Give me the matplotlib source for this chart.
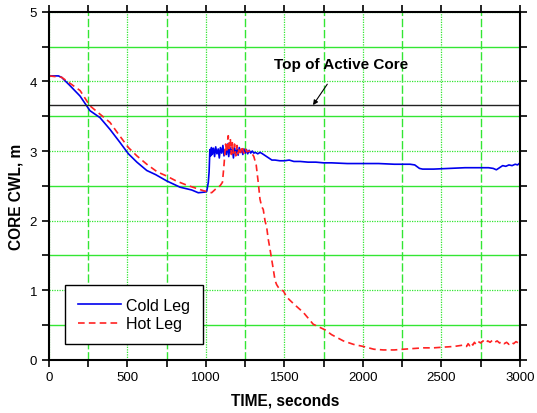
import matplotlib.pyplot as plt
from matplotlib.ticker import MultipleLocator

plt.rcParams['font.family'] = ['Liberation Sans', 'DejaVu Sans']

# Cold leg (blue)
cold_t = [0, 60, 80, 134, 198, 261, 325, 389, 450, 506, 560, 623, 680, 750, 835, 909, 951, 994,
          1005, 1015, 1020, 1025, 1030, 1035, 1040, 1048, 1055, 1062, 1070, 1078, 1085, 1092,
          1100, 1108, 1115, 1122, 1130, 1137, 1145, 1152, 1160, 1168, 1175, 1182, 1190, 1198,
          1205, 1212, 1220, 1228, 1235, 1242, 1250, 1258, 1266, 1275, 1285, 1295, 1305, 1315,
          1330, 1345, 1360, 1380, 1400, 1420, 1440, 1470, 1500, 1530, 1560, 1600, 1650, 1700,
          1750, 1800, 1900, 2000, 2100, 2200, 2300, 2330, 2360, 2380, 2450, 2550, 2650, 2750,
          2800, 2830, 2850, 2870, 2890, 2910, 2930, 2950, 2970, 2985, 3000]
cold_v = [4.08, 4.08, 4.06, 3.94, 3.79, 3.58, 3.48, 3.31, 3.13, 2.96, 2.84, 2.72, 2.66, 2.57, 2.48, 2.44, 2.40, 2.41,
          2.42, 2.55, 2.70, 3.02, 2.93, 3.05, 2.95, 3.04, 2.92, 3.06, 2.96, 3.03, 2.90, 3.05,
          2.97, 3.08, 2.93, 3.02, 2.95, 3.10, 2.92, 3.06, 2.97, 3.04, 2.90, 3.05, 2.96, 3.03,
          2.94, 3.05, 2.98, 3.02, 2.95, 3.03, 2.97, 3.02, 2.96, 3.01, 2.97, 3.00, 2.97, 2.98,
          2.96, 2.98, 2.96, 2.93, 2.90, 2.87, 2.87, 2.86, 2.86, 2.87, 2.85, 2.85, 2.84, 2.84,
          2.83, 2.83, 2.82, 2.82, 2.82, 2.81, 2.81, 2.80, 2.75, 2.74, 2.74, 2.75, 2.76, 2.76,
          2.76, 2.75, 2.73, 2.76, 2.79, 2.78, 2.80, 2.79, 2.81, 2.80, 2.83]

# Hot leg (red)
hot_t = [0, 40, 81, 130, 198, 261, 325, 389, 450, 506, 560, 623, 690, 750, 810, 877, 930, 983, 1036,
         1060, 1090, 1105, 1115, 1125, 1132, 1138, 1142, 1148, 1155, 1162, 1168, 1175, 1182, 1190,
         1198, 1205, 1212, 1220, 1230, 1240, 1250, 1260, 1275, 1290, 1305, 1320, 1333, 1344, 1355,
         1365, 1376, 1387, 1397, 1408, 1418, 1429, 1440, 1450, 1461, 1475, 1493, 1514, 1560, 1620,
         1650, 1683, 1720, 1758, 1800, 1875, 1940, 2002, 2070, 2130, 2200, 2257, 2320, 2385, 2450,
         2512, 2580, 2640, 2660, 2670, 2680, 2690, 2700, 2710, 2720, 2735, 2750, 2765, 2780, 2795,
         2810, 2825, 2840, 2855, 2870, 2885, 2900, 2915, 2930, 2945, 2960, 2975, 2990, 3000]
hot_v = [4.08, 4.07, 4.06, 3.98, 3.87, 3.65, 3.53, 3.41, 3.22, 3.05, 2.93, 2.81, 2.70, 2.64, 2.57, 2.51, 2.47, 2.43, 2.40,
         2.45, 2.50, 2.55, 2.80, 3.10, 2.98, 3.15, 3.22, 3.00, 3.18, 2.95, 3.12, 2.97, 3.10, 2.93,
         3.08, 2.96, 3.05, 2.98, 3.07, 2.97, 3.04, 2.99, 3.00, 2.98, 2.92, 2.80, 2.55, 2.31, 2.20,
         2.16, 2.00, 1.90, 1.73, 1.59, 1.45, 1.30, 1.14, 1.08, 1.04, 1.00, 0.99, 0.90, 0.80, 0.68,
         0.60, 0.51, 0.47, 0.43, 0.36, 0.27, 0.22, 0.19, 0.15, 0.14, 0.14, 0.15, 0.16, 0.17, 0.17,
         0.18, 0.19, 0.21, 0.19, 0.23, 0.20, 0.24, 0.21, 0.25, 0.22, 0.26, 0.24, 0.27, 0.24, 0.27,
         0.25, 0.28, 0.25, 0.27, 0.24, 0.26, 0.23, 0.25, 0.22, 0.25, 0.23, 0.26, 0.24, 0.25]

top_of_core = 3.66

fig = plt.figure(figsize=(5.37, 4.14), dpi=100)
ax = fig.add_axes([0.0912, 0.1288, 0.877, 0.84])

green = '#33e633'
ax.xaxis.set_major_locator(MultipleLocator(500))
ax.xaxis.set_minor_locator(MultipleLocator(250))
ax.yaxis.set_major_locator(MultipleLocator(1))
ax.yaxis.set_minor_locator(MultipleLocator(0.5))
ax.xaxis.grid(True, which='major', color=green, ls=(0, (1, 1)), lw=0.9)
ax.xaxis.grid(True, which='minor', color=green, ls=(0, (6, 2)), lw=1.0)
ax.yaxis.grid(True, which='major', color=green, ls=(0, (1, 1)), lw=0.9)
ax.yaxis.grid(True, which='minor', color=green, ls='-', lw=1.0)
ax.set_axisbelow(True)

ax.plot(cold_t, cold_v, color='#0000ee', lw=1.2, label='Cold Leg')
ax.plot(hot_t, hot_v, color='#ff2222', lw=1.2, ls=(0, (4, 2.5)), label='Hot Leg')
ax.axhline(top_of_core, color='#222222', lw=1.0)

ax.annotate('Top of Active Core', xy=(1682, top_of_core), xytext=(1860, 4.25),
            ha='center', va='center', fontsize=11, fontweight='bold',
            arrowprops=dict(arrowstyle='-|>', color='black', lw=0.8,
                            mutation_scale=7, shrinkA=9, shrinkB=0))

ax.set_xlim(0, 3000)
ax.set_ylim(0, 5)
ax.tick_params(which='both', direction='out', length=5, width=1.2, top=True, right=True,
               labelsize=9.5)
for s in ax.spines.values():
    s.set_linewidth(1.5)

ax.set_xlabel('TIME, seconds', fontsize=11.2, fontweight='bold', va='center')
ax.set_ylabel('CORE CWL, m', fontsize=11.2, fontweight='bold', va='center')
ax.xaxis.set_label_coords(0.501, -0.116)
ax.yaxis.set_label_coords(-0.070, 0.471)

leg = ax.legend(loc='lower left', bbox_to_anchor=(0.034, 0.045), borderaxespad=0,
                fontsize=11.5, fancybox=False, edgecolor='black', framealpha=1,
                handlelength=2.7, handletextpad=0.35, borderpad=0.8, labelspacing=0.2)
leg.get_frame().set_linewidth(1.0)

fig.savefig('out.png', dpi=100)
